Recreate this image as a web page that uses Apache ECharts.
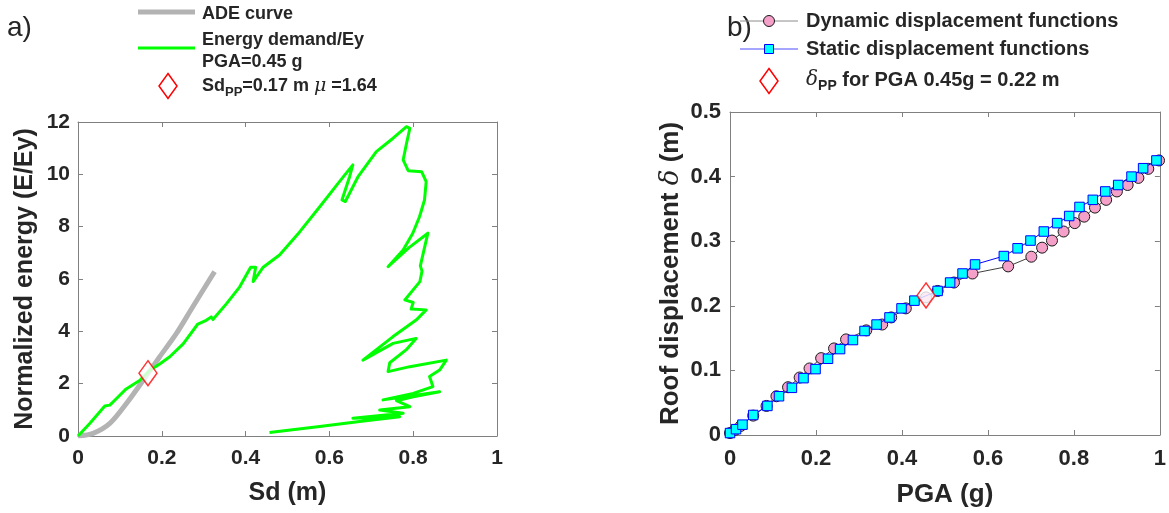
<!DOCTYPE html>
<html>
<head>
<meta charset="utf-8">
<script src="https://cdn.jsdelivr.net/npm/echarts@6/dist/echarts.min.js"></script>
<style>
html,body{margin:0;padding:0;background:#fff;}
#chart{width:1169px;height:513px;}
</style>
</head>
<body>
<div id="chart"></div>
<script>
// ---------- Data: panel a) ----------
const sdADE = [0, 0.036, 0.076, 0.116, 0.167, 0.195, 0.235, 0.274, 0.326];
const eADE  = [0, 0.10, 0.48, 1.25, 2.39, 3.03, 3.92, 4.94, 6.28];

const sdEnergy = [0,0.028,0.064,0.076,0.095,0.115,0.147,0.171,0.195,0.219,0.251,0.286,0.306,0.318,0.322,0.354,0.386,0.412,0.424,0.418,0.442,0.481,0.529,0.577,0.624,0.656,0.648,0.630,0.638,0.668,0.712,0.752,0.784,0.792,0.784,0.776,0.788,0.820,0.831,0.827,0.815,0.799,0.776,0.740,0.790,0.835,0.817,0.821,0.816,0.780,0.800,0.795,0.831,0.807,0.752,0.680,0.752,0.807,0.783,0.744,0.740,0.792,0.879,0.863,0.839,0.847,0.800,0.728,0.863,0.800,0.760,0.792,0.720,0.776,0.656,0.768,0.672,0.577,0.457];
const eEnergy  = [0,0.48,1.15,1.18,1.48,1.80,2.12,2.50,2.75,3.03,3.52,4.28,4.42,4.55,4.45,5.05,5.70,6.45,6.45,5.90,6.45,6.92,7.80,8.76,9.72,10.36,9.90,9.02,8.96,9.90,10.87,11.38,11.82,11.76,11.18,10.55,10.14,10.10,9.72,9.02,8.38,7.75,7.11,6.47,7.20,7.75,6.50,6.30,5.90,5.20,5.10,4.85,4.82,4.43,3.80,2.90,3.54,3.73,3.29,2.80,2.46,2.65,2.90,2.52,2.27,1.89,1.63,1.38,1.69,1.50,1.35,1.12,0.99,0.87,0.68,0.74,0.55,0.36,0.13];

const ppA = [0.167, 2.40];

// ---------- Data: panel b) ----------
const pgaDyn  = [0,0.012,0.025,0.054,0.085,0.108,0.135,0.162,0.185,0.212,0.242,0.270,0.317,0.354,0.375,0.409,0.456,0.483,0.521,0.564,0.647,0.701,0.726,0.749,0.776,0.802,0.824,0.849,0.875,0.900,0.925,0.950,0.973,0.998];
const dispDyn = [0.003,0.008,0.014,0.030,0.045,0.060,0.074,0.089,0.103,0.119,0.134,0.148,0.162,0.171,0.182,0.196,0.213,0.223,0.236,0.250,0.261,0.276,0.290,0.301,0.315,0.328,0.338,0.352,0.364,0.377,0.387,0.398,0.412,0.425];

const pgaStat  = [0,0.014,0.029,0.054,0.087,0.114,0.144,0.171,0.199,0.228,0.256,0.286,0.313,0.341,0.371,0.399,0.429,0.483,0.512,0.541,0.570,0.637,0.669,0.699,0.730,0.761,0.789,0.813,0.844,0.873,0.903,0.934,0.961,0.992];
const dispStat = [0.003,0.009,0.016,0.031,0.045,0.060,0.073,0.088,0.102,0.118,0.133,0.147,0.161,0.171,0.182,0.196,0.208,0.223,0.236,0.250,0.264,0.277,0.289,0.301,0.315,0.328,0.339,0.353,0.364,0.377,0.387,0.400,0.413,0.425];

const ppB = [0.456, 0.216];

const xTicksA = [0, 0.2, 0.4, 0.6, 0.8, 1];
const yTicksA = [0, 2, 4, 6, 8, 10, 12];
const yTicksB = [0, 0.1, 0.2, 0.3, 0.4, 0.5];

// ---------- helpers ----------
const zip = (a, b) => a.map((v, i) => [v, b[i]]);
const FONT = "'Liberation Sans', Arial, sans-serif";
const AXC = '#808080';
const TXT = '#262626';

function axisBase(opts) {
  return Object.assign({
    type: 'value',
    axisLine: { show: true, onZero: false, lineStyle: { color: AXC, width: 1 } },
    axisTick: { show: true, inside: true, length: 5, lineStyle: { color: AXC } },
    splitLine: { show: false },
  }, opts);
}

function diamondPts(cx, cy, w, h) {
  return [[cx, cy - h / 2], [cx + w / 2, cy], [cx, cy + h / 2], [cx - w / 2, cy]];
}

const chart = echarts.init(document.getElementById('chart'), null, { renderer: 'canvas' });

const option = {
  animation: false,
  backgroundColor: '#fff',
  textStyle: { fontFamily: FONT },
  grid: [
    { left: 78, top: 122, width: 419, height: 314 },
    { left: 730, top: 112, width: 432, height: 327 }
  ],
  xAxis: [
    axisBase({ gridIndex: 0, position: 'bottom', min: xTicksA[0], max: xTicksA[xTicksA.length - 1], interval: 0.2,
      axisLabel: { margin: 12, color: TXT, fontSize: 21, fontWeight: 'bold', fontFamily: FONT },
      name: 'Sd (m)', nameLocation: 'middle', nameGap: 45,
      nameTextStyle: { color: TXT, fontSize: 25, fontWeight: 'bold', fontFamily: FONT } }),
    axisBase({ gridIndex: 0, position: 'top', min: 0, max: 1, interval: 0.2, axisLabel: { show: false } }),
    axisBase({ gridIndex: 1, position: 'bottom', min: 0, max: 1, interval: 0.2,
      axisLabel: { margin: 13, color: TXT, fontSize: 22, fontWeight: 'bold', fontFamily: FONT },
      name: 'PGA (g)', nameLocation: 'middle', nameGap: 47,
      nameTextStyle: { color: TXT, fontSize: 26, fontWeight: 'bold', fontFamily: FONT } }),
    axisBase({ gridIndex: 1, position: 'top', min: 0, max: 1, interval: 0.2, axisLabel: { show: false } })
  ],
  yAxis: [
    axisBase({ gridIndex: 0, position: 'left', min: yTicksA[0], max: yTicksA[yTicksA.length - 1], interval: 2,
      axisLabel: { margin: 8, color: TXT, fontSize: 21, fontWeight: 'bold', fontFamily: FONT },
      name: 'Normalized energy (E/Ey)', nameLocation: 'middle', nameGap: 40,
      nameTextStyle: { color: TXT, fontSize: 25, fontWeight: 'bold', fontFamily: FONT } }),
    axisBase({ gridIndex: 0, position: 'right', min: 0, max: 12, interval: 2, axisLabel: { show: false } }),
    axisBase({ gridIndex: 1, position: 'left', min: yTicksB[0], max: yTicksB[yTicksB.length - 1], interval: 0.1,
      axisLabel: { margin: 9, color: TXT, fontSize: 22, fontWeight: 'bold', fontFamily: FONT },
      name: '{b|Roof displacement }{i|δ}{b| (m)}', nameLocation: 'middle', nameGap: 46,
      nameTextStyle: { color: TXT, fontSize: 26, fontWeight: 'bold', fontFamily: FONT,
        rich: {
          b: { fontSize: 26, fontWeight: 'bold', fontFamily: FONT, color: TXT },
          i: { fontSize: 26, fontStyle: 'italic', fontWeight: 'normal', fontFamily: "'DejaVu Serif', serif", color: TXT }
        } } }),
    axisBase({ gridIndex: 1, position: 'right', min: 0, max: 0.5, interval: 0.1, axisLabel: { show: false } })
  ],
  series: [
    { name: 'ADE curve', type: 'line', xAxisIndex: 0, yAxisIndex: 0, data: zip(sdADE, eADE),
      smooth: 0.3, showSymbol: false, symbol: 'none', lineStyle: { color: '#b3b3b3', width: 5 }, z: 2 },
    { name: 'Energy demand/Ey', type: 'line', xAxisIndex: 0, yAxisIndex: 0, data: zip(sdEnergy, eEnergy),
      showSymbol: false, symbol: 'none', lineStyle: { color: '#00ff00', width: 3, join: 'round' }, z: 3 },
    { name: 'SdPP', type: 'scatter', xAxisIndex: 0, yAxisIndex: 0, data: [ppA],
      symbol: 'diamond', symbolSize: [18, 25],
      itemStyle: { color: '#ffffff', borderColor: '#ff0000', borderWidth: 1.5 }, z: 5 },
    { name: 'Dynamic displacement functions', type: 'line', xAxisIndex: 2, yAxisIndex: 2, data: zip(pgaDyn, dispDyn),
      symbol: 'circle', symbolSize: 11, showAllSymbol: true,
      lineStyle: { color: '#404040', width: 1 },
      itemStyle: { color: '#f4a0c9', borderColor: '#1a1a1a', borderWidth: 1 }, z: 3 },
    { name: 'Static displacement functions', type: 'line', xAxisIndex: 2, yAxisIndex: 2, data: zip(pgaStat, dispStat),
      symbol: 'rect', symbolSize: 9.5, showAllSymbol: true,
      lineStyle: { color: '#0000ff', width: 1 },
      itemStyle: { color: '#00ffff', borderColor: '#0000ff', borderWidth: 1 }, z: 4 },
    { name: 'deltaPP', type: 'scatter', xAxisIndex: 2, yAxisIndex: 2, data: [ppB],
      symbol: 'diamond', symbolSize: [18, 25],
      itemStyle: { color: '#ffffff', borderColor: '#ff0000', borderWidth: 1.5 }, z: 6 }
  ],
  graphic: [
    // panel labels
    { type: 'text', x: 7, y: 28, style: { text: 'a)', font: "28px " + FONT, fill: TXT, verticalAlign: 'middle' } },
    { type: 'text', x: 727, y: 28, style: { text: 'b)', font: "28px " + FONT, fill: TXT, verticalAlign: 'middle' } },
    // legend a)
    { type: 'line', shape: { x1: 138, y1: 12, x2: 195, y2: 12 }, style: { stroke: '#b3b3b3', lineWidth: 5 } },
    { type: 'text', x: 202, y: 14, style: { text: 'ADE curve', font: "bold 18px " + FONT, fill: TXT, verticalAlign: 'middle' } },
    { type: 'line', shape: { x1: 138, y1: 48, x2: 195, y2: 48 }, style: { stroke: '#00ff00', lineWidth: 3 } },
    { type: 'text', x: 202, y: 40, style: { text: 'Energy demand/Ey', font: "bold 18px " + FONT, fill: TXT, verticalAlign: 'middle' } },
    { type: 'text', x: 202, y: 62, style: { text: 'PGA=0.45 g', font: "bold 18px " + FONT, fill: TXT, verticalAlign: 'middle' } },
    { type: 'polygon', shape: { points: diamondPts(168, 86, 18, 25) }, style: { fill: '#fff', stroke: '#ff0000', lineWidth: 1.5 } },
    { type: 'text', x: 202, y: 86, style: {
        text: '{b|Sd}{s|PP}{b|=0.17 m }{i|μ}{b| =1.64}', verticalAlign: 'middle', fill: TXT,
        rich: {
          b: { fontSize: 18, fontWeight: 'bold', fontFamily: FONT, fill: TXT },
          s: { fontSize: 13, fontWeight: 'bold', fontFamily: FONT, fill: TXT, padding: [12, 0, 0, 0] },
          i: { fontSize: 19, fontStyle: 'italic', fontFamily: "'DejaVu Serif', serif", fill: TXT }
        } } },
    // legend b)
    { type: 'line', shape: { x1: 740, y1: 21, x2: 798, y2: 21 }, style: { stroke: '#8c8c8c', lineWidth: 1 } },
    { type: 'circle', shape: { cx: 769, cy: 21, r: 5.5 }, style: { fill: '#f4a0c9', stroke: '#1a1a1a', lineWidth: 1 } },
    { type: 'text', x: 806, y: 21, style: { text: 'Dynamic displacement functions', font: "bold 20px " + FONT, fill: TXT, verticalAlign: 'middle' } },
    { type: 'line', shape: { x1: 740, y1: 49, x2: 798, y2: 49 }, style: { stroke: '#4d4dff', lineWidth: 1 } },
    { type: 'rect', shape: { x: 764.5, y: 44.5, width: 9, height: 9 }, style: { fill: '#00ffff', stroke: '#0000ff', lineWidth: 1 } },
    { type: 'text', x: 806, y: 49, style: { text: 'Static displacement functions', font: "bold 20px " + FONT, fill: TXT, verticalAlign: 'middle' } },
    { type: 'polygon', shape: { points: diamondPts(769, 81, 18, 25) }, style: { fill: '#fff', stroke: '#ff0000', lineWidth: 1.5 } },
    { type: 'text', x: 806, y: 80, style: {
        text: '{i|δ}{s|PP}{b| for PGA 0.45g = 0.22 m}', verticalAlign: 'middle', fill: TXT,
        rich: {
          b: { fontSize: 20, fontWeight: 'bold', fontFamily: FONT, fill: TXT },
          s: { fontSize: 14, fontWeight: 'bold', fontFamily: FONT, fill: TXT, padding: [13, 0, 0, 0] },
          i: { fontSize: 20, fontStyle: 'italic', fontFamily: "'DejaVu Serif', serif", fill: TXT }
        } } }
  ]
};

chart.setOption(option);
</script>
</body>
</html>
